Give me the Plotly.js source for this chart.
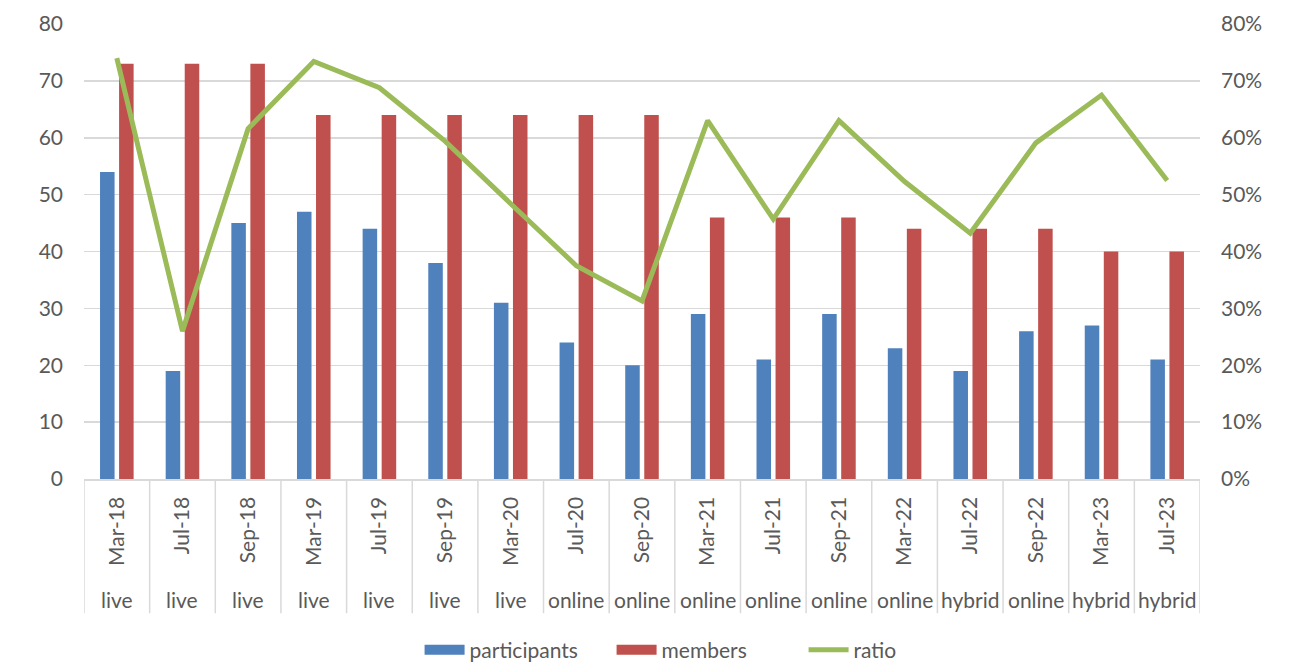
<!DOCTYPE html>
<html>
<head>
<meta charset="utf-8">
<script src="https://cdn.plot.ly/plotly-3.0.1.min.js"></script>
<style>html,body{margin:0;padding:0;background:#fff;}#chart{width:1295px;height:662px;}</style>
</head>
<body>
<div id="chart"></div>
<script>
const dates = ["Mar-18","Jul-18","Sep-18","Mar-19","Jul-19","Sep-19","Mar-20","Jul-20","Sep-20","Mar-21","Jul-21","Sep-21","Mar-22","Jul-22","Sep-22","Mar-23","Jul-23"];
const formats = ["live","live","live","live","live","live","live","online","online","online","online","online","online","hybrid","online","hybrid","hybrid"];
const participants = [54,19,45,47,44,38,31,24,20,29,21,29,23,19,26,27,21];
const members = [73,73,73,64,64,64,64,64,64,46,46,46,44,44,44,40,40];
const ratio = [0.74,0.26,0.616,0.734,0.688,0.594,0.484,0.375,0.313,0.63,0.457,0.63,0.523,0.432,0.591,0.675,0.525];

const FONT = "Lato, 'Liberation Sans', sans-serif";
const TXT = "#595959";
const GRID = "#d9d9d9";
const BLUE = "#4F81BD", RED = "#C0504D", GREEN = "#9BBB59";

const traces = [
  {type:"bar", name:"participants", x:dates, y:participants, marker:{color:BLUE}, yaxis:"y", showlegend:false},
  {type:"bar", name:"members", x:dates, y:members, marker:{color:RED}, yaxis:"y", showlegend:false},
  {type:"scatter", mode:"lines", name:"ratio", x:dates, y:ratio, line:{color:GREEN, width:5}, yaxis:"y2", showlegend:false},
  // legend entries (wide swatches like the original)
  {type:"scatter", mode:"lines", name:"participants", x:[null], y:[null], line:{color:BLUE, width:14}, hoverinfo:"skip", legendrank:1},
  {type:"scatter", mode:"lines", name:"members", x:[null], y:[null], line:{color:RED, width:14}, hoverinfo:"skip", legendrank:2},
  {type:"scatter", mode:"lines", name:"ratio", x:[null], y:[null], yaxis:"y2", line:{color:GREEN, width:5}, hoverinfo:"skip", legendrank:3}
];

const shapes = [];
for (let i = 0; i <= dates.length; i++) {
  shapes.push({type:"line", xref:"x", yref:"paper", x0:i-0.5, x1:i-0.5, y0:0, y1:-0.295, line:{color:GRID, width:1.5}});
}
const annotations = formats.map((f,i)=>({
  text:f, x:dates[i], xref:"x", yref:"paper", y:-0.264, yanchor:"middle", showarrow:false,
  font:{family:FONT, size:21, color:TXT}
}));

const layout = {
  width:1295, height:662,
  margin:{l:84, r:95, t:24, b:183, autoexpand:false},
  paper_bgcolor:"#fff", plot_bgcolor:"#fff",
  font:{family:FONT, size:21, color:TXT},
  barmode:"group", bargap:0.42, bargroupgap:0.237,
  showlegend:true,
  legend:{orientation:"h", x:0.324, xanchor:"left", xref:"container", y:0.018, yref:"container", yanchor:"middle", font:{family:FONT, size:21, color:TXT}, itemwidth:40, entrywidth:137, traceorder:"normal"},
  xaxis:{type:"category", range:[-0.5, dates.length-0.5], tickangle:-90, showgrid:false, showline:true, linecolor:GRID, linewidth:1.5, ticks:"", ticklabelstandoff:8, tickfont:{family:FONT, size:21, color:TXT}, zeroline:false, automargin:false},
  yaxis:{range:[0,80], dtick:10, showgrid:true, gridcolor:GRID, gridwidth:1.5, zeroline:false, showline:false, ticks:"", tickfont:{family:FONT, size:21, color:TXT}, ticklabelstandoff:20, automargin:false},
  yaxis2:{range:[0,0.8], dtick:0.1, tickformat:".0%", overlaying:"y", side:"right", showgrid:false, zeroline:false, showline:false, ticks:"", tickfont:{family:FONT, size:21, color:TXT}, ticklabelstandoff:20, automargin:false},
  shapes:shapes,
  annotations:annotations
};

Plotly.newPlot("chart", traces, layout, {displayModeBar:false, staticPlot:true});
</script>
</body>
</html>
